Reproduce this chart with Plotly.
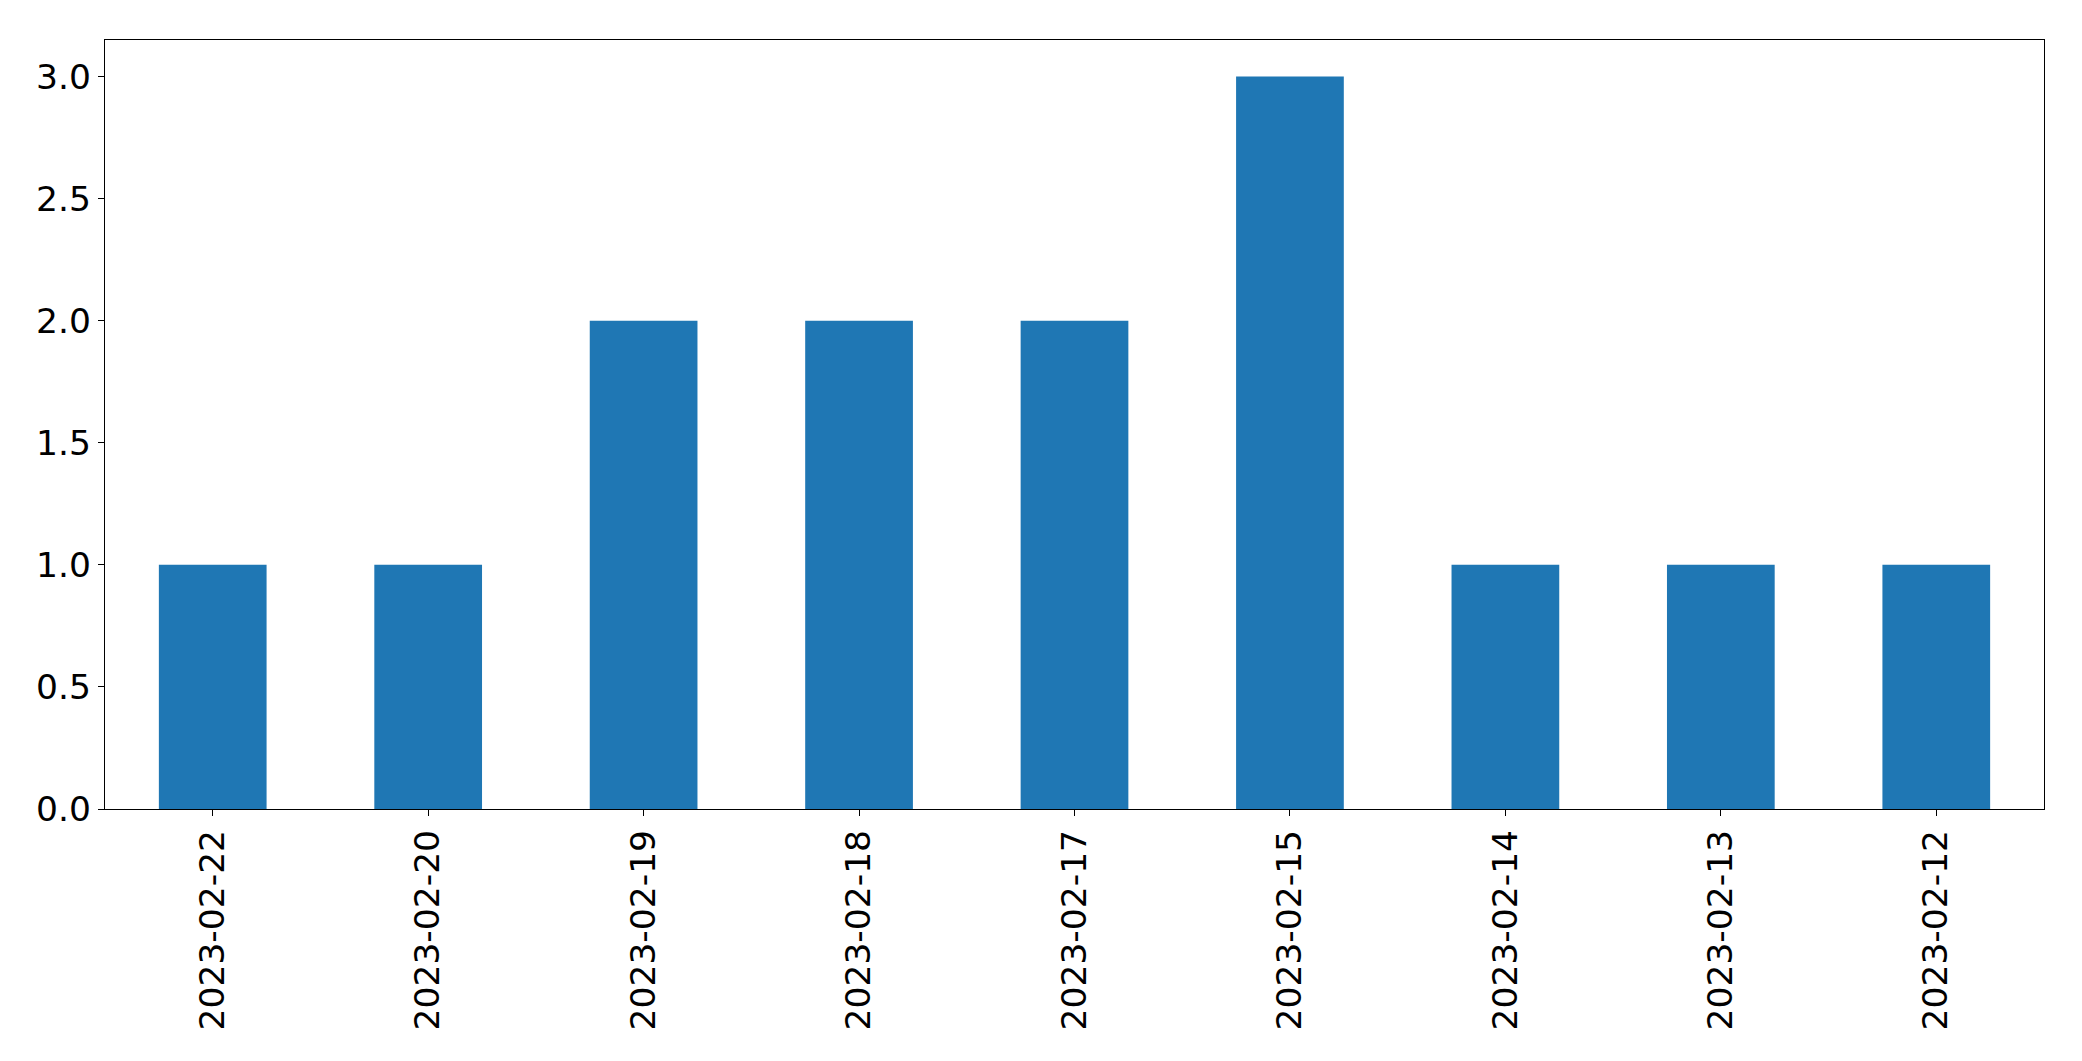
import plotly.graph_objects as go

dates = ["2023-02-22", "2023-02-20", "2023-02-19", "2023-02-18", "2023-02-17",
         "2023-02-15", "2023-02-14", "2023-02-13", "2023-02-12"]
counts = [1, 1, 2, 2, 2, 3, 1, 1, 1]

fig = go.Figure(go.Bar(x=dates, y=counts, marker=dict(color="#1f77b4", line=dict(width=0)), width=0.5))

font = dict(family="DejaVu Sans", size=34.5, color="black")
fig.update_layout(
    width=2082, height=1061,
    margin=dict(l=97, r=46, t=32, b=260),
    paper_bgcolor="white", plot_bgcolor="white",
    font=font, showlegend=False,
)
fig.update_xaxes(
    type="category", range=[-0.5, 8.5], tickangle=-90,
    showline=True, linecolor="black", linewidth=1.3, mirror=True,
    ticks="outside", ticklen=6, tickcolor="black", showgrid=False, tickfont=font,
)
fig.update_yaxes(
    range=[0, 3.15], dtick=0.5, tick0=0, tickformat=".1f",
    showline=True, linecolor="black", linewidth=1.3, mirror=True,
    ticks="outside", ticklen=6, tickcolor="black", showgrid=False, zeroline=False, tickfont=font,
)
fig.write_html("out.html")
